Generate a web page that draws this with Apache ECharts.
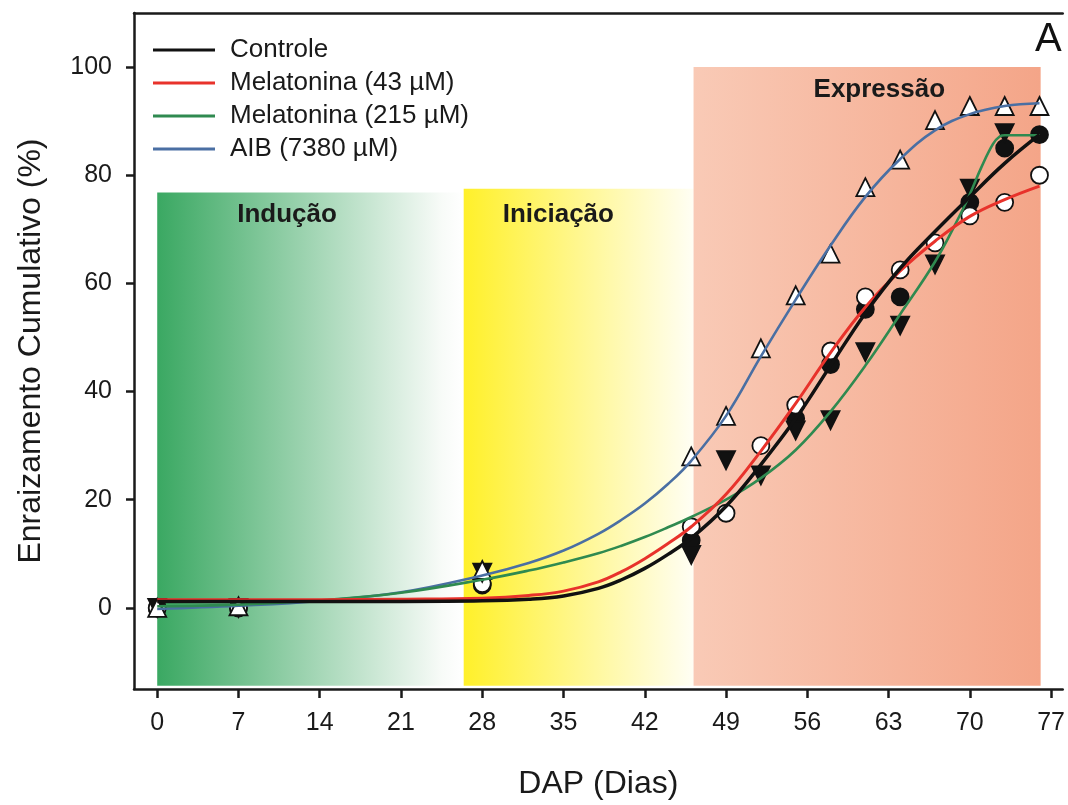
<!DOCTYPE html>
<html>
<head>
<meta charset="utf-8">
<script src="https://cdn.jsdelivr.net/npm/echarts@6/dist/echarts.min.js"></script>
<style>
html,body{margin:0;padding:0;background:#fff;}
#chart{width:1068px;height:805px;}
</style>
</head>
<body>
<div id="chart"></div>
<script>
// ---------- data ----------
const xTicks = [0, 7, 14, 21, 28, 35, 42, 49, 56, 63, 70, 77];
const yTicks = [0, 20, 40, 60, 80, 100];

const phaseNames = ['Indução', 'Iniciação', 'Expressão'];
const phaseStart = [0, 26.4, 46.2];
const phaseEnd = [26.4, 46.2, 76.1];
const phaseTop = [76.8, 77.5, 100];
const phaseBottom = -14.4;

const seriesNames = ['Controle', 'Melatonina (43 µM)', 'Melatonina (215 µM)', 'AIB (7380 µM)'];

// observed points
const ctrlX = [0, 7, 28, 46, 55, 58, 61, 64, 70, 73, 76];
const ctrlY = [0, 0, 4.2, 12.5, 35, 45, 55.2, 57.5, 75, 85, 87.5];
const mel43X = [0, 7, 28, 46, 49, 52, 55, 58, 61, 64, 67, 70, 73, 76];
const mel43Y = [0, 0, 4.5, 15, 17.5, 30, 37.5, 47.5, 57.5, 62.5, 67.5, 72.5, 75, 80];
const mel215X = [0, 7, 28, 46, 49, 52, 55, 58, 61, 64, 67, 70, 73];
const mel215Y = [0, 0, 6.5, 9.8, 27.3, 24.5, 32.8, 34.7, 47.3, 52.2, 63.5, 77.5, 87.8];
const aibX = [0, 7, 28, 46, 49, 52, 55, 58, 61, 64, 67, 70, 73, 76];
const aibY = [0, 0.3, 7, 28, 35.5, 48, 57.8, 65.5, 77.8, 82.9, 90.2, 92.8, 92.8, 92.8];

// fitted curves
const ctrlCurveX = [0, 7, 14, 21, 28, 32, 35, 38, 40, 42, 44, 46, 49, 52, 55, 58, 61, 64, 67, 70, 73, 76];
const ctrlCurveY = [1.2, 1.2, 1.2, 1.2, 1.3, 1.6, 2.2, 3.6, 5.2, 7.3, 9.9, 12.9, 18.8, 26.5, 35, 44.8, 54.5, 62.8, 69.6, 76, 82.2, 87.5];
const mel43CurveX = [0, 7, 14, 21, 28, 32, 35, 38, 40, 42, 44, 46, 49, 52, 55, 58, 61, 64, 67, 70, 73, 76];
const mel43CurveY = [1.5, 1.5, 1.5, 1.6, 1.8, 2.3, 3.1, 4.8, 6.7, 9.1, 11.9, 15, 21, 29, 37.8, 47.2, 55.6, 62.3, 67.8, 72.4, 75.5, 78];
const mel215CurveX = [0, 7, 14, 21, 28, 32, 35, 38, 40, 42, 44, 46, 49, 52, 55, 58, 61, 64, 67, 69, 70, 71, 72, 72.6, 73, 76];
const mel215CurveY = [0.3, 0.6, 1.4, 2.8, 5.2, 6.9, 8.4, 10.1, 11.5, 13.1, 14.9, 16.8, 20, 24, 29.2, 36.3, 44.8, 54.3, 64, 72, 76.5, 81.5, 85.8, 87.2, 87.4, 87.4];
const aibCurveX = [0, 7, 14, 21, 28, 32, 35, 38, 40, 42, 44, 46, 49, 52, 55, 58, 61, 64, 67, 70, 73, 76];
const aibCurveY = [-0.2, 0.4, 1.3, 2.9, 6, 8.3, 10.6, 13.7, 16.3, 19.3, 22.9, 27.2, 35.5, 46.5, 57, 67, 76, 83, 88.3, 91.3, 92.8, 93.3];

// ---------- styles ----------
const FONT = 'Liberation Sans, Arial, sans-serif';
const INK = '#1a1a1a';
const colors = ['#111111', '#e8322b', '#2f8a50', '#4a6fa3'];
const lineWidths = [3.5, 3, 2.6, 2.6];
const phaseGrad = [
  [[0, '#3aa862'], [0.93, '#f8fbf8'], [1, '#ffffff']],
  [[0, '#fff02a'], [1, '#fffef4']],
  [[0, '#f9cab6'], [1, '#f4a588']]
];
const phaseLabelPos = [[80, 9], [39, 13], [120, 10]];

const zip = (xs, ys) => xs.map((x, i) => [x, ys[i]]);

const chart = echarts.init(document.getElementById('chart'), null, {renderer: 'canvas'});

const markData = phaseNames.map((n, i) => [
  {
    name: n,
    xAxis: phaseStart[i],
    yAxis: phaseTop[i],
    itemStyle: {
      color: new echarts.graphic.LinearGradient(0, 0, 1, 0,
        phaseGrad[i].map(s => ({offset: s[0], color: s[1]})))
    },
    label: {
      show: true,
      position: phaseLabelPos[i],
      align: 'left',
      verticalAlign: 'top',
      fontFamily: FONT,
      fontWeight: 'bold',
      fontSize: 26,
      color: '#1a1a1a'
    }
  },
  {xAxis: phaseEnd[i], yAxis: phaseBottom}
]);

const curveSets = [
  [ctrlCurveX, ctrlCurveY], [mel43CurveX, mel43CurveY],
  [mel215CurveX, mel215CurveY], [aibCurveX, aibCurveY]
];
const pointSets = [
  [ctrlX, ctrlY], [mel43X, mel43Y], [mel215X, mel215Y], [aibX, aibY]
];
const markerStyle = [
  {symbol: 'circle', size: 17, rotate: 0, fill: '#111111'},
  {symbol: 'circle', size: 17, rotate: 0, fill: '#ffffff'},
  {symbol: 'triangle', size: 18, rotate: 180, fill: '#111111'},
  {symbol: 'triangle', size: 18, rotate: 0, fill: '#ffffff'}
];

const series = [];
series.push({
  type: 'line',
  name: 'phases',
  data: [],
  silent: true,
  z: 1,
  markArea: {silent: true, z: 1, data: markData}
});
pointSets.forEach((p, i) => {
  const m = markerStyle[i];
  series.push({
    type: 'scatter',
    name: seriesNames[i] + ' obs',
    data: zip(p[0], p[1]),
    symbol: m.symbol,
    symbolSize: m.size,
    symbolRotate: m.rotate,
    itemStyle: {color: m.fill, borderColor: '#111111', borderWidth: 1.8, opacity: 1},
    z: 3 + i
  });
});
curveSets.forEach((c, i) => {
  series.push({
    type: 'line',
    name: seriesNames[i],
    data: zip(c[0], c[1]),
    smooth: 0.4,
    showSymbol: false,
    symbol: 'none',
    lineStyle: {color: colors[i], width: lineWidths[i]},
    itemStyle: {color: colors[i]},
    z: 10 + (3 - i)
  });
});

const option = {
  animation: false,
  backgroundColor: '#ffffff',
  textStyle: {fontFamily: FONT},
  grid: {
    left: 134, top: 13, right: 0, bottom: 113,
    show: false, containLabel: false
  },
  legend: {
    data: seriesNames,
    left: 153, top: 36,
    padding: 0,
    orient: 'vertical',
    icon: 'rect',
    itemWidth: 62, itemHeight: 3,
    itemGap: 5,
    textStyle: {fontFamily: FONT, fontSize: 26, color: '#1a1a1a', lineHeight: 28, padding: [0, 0, 0, 10]},
    selectedMode: false
  },
  xAxis: [{
    type: 'value',
    min: -2, max: 78,
    name: 'DAP (Dias)',
    nameLocation: 'middle',
    nameGap: 79,
    nameTextStyle: {fontFamily: FONT, fontSize: 32, color: '#1a1a1a'},
    axisLine: {show: true, onZero: false, lineStyle: {color: INK, width: 2.5}},
    axisTick: {show: true, customValues: xTicks, length: 9, inside: false, lineStyle: {color: INK, width: 2.5}},
    axisLabel: {customValues: xTicks, margin: 22, fontFamily: FONT, fontSize: 25, color: '#1a1a1a'},
    splitLine: {show: false}
  }, {
    type: 'value',
    position: 'top',
    min: -2, max: 78,
    axisLine: {show: true, onZero: false, lineStyle: {color: INK, width: 2.5}},
    axisTick: {show: false},
    axisLabel: {show: false},
    splitLine: {show: false}
  }],
  yAxis: {
    type: 'value',
    min: -15, max: 110,
    name: 'Enraizamento Cumulativo (%)',
    nameLocation: 'middle',
    nameGap: 87,
    nameTextStyle: {fontFamily: FONT, fontSize: 32, color: '#1a1a1a'},
    axisLine: {show: true, onZero: false, lineStyle: {color: INK, width: 2.5}},
    axisTick: {show: true, customValues: yTicks, length: 8, inside: false, lineStyle: {color: INK, width: 2.5}},
    axisLabel: {customValues: yTicks, margin: 22, fontFamily: FONT, fontSize: 25, color: '#1a1a1a'},
    splitLine: {show: false}
  },
  graphic: [{
    type: 'text', left: 1035, top: 20, z: 100,
    style: {text: 'A', font: '40px ' + FONT, fill: '#111111'}
  }],
  series: series
};
chart.setOption(option);
</script>
</body>
</html>
